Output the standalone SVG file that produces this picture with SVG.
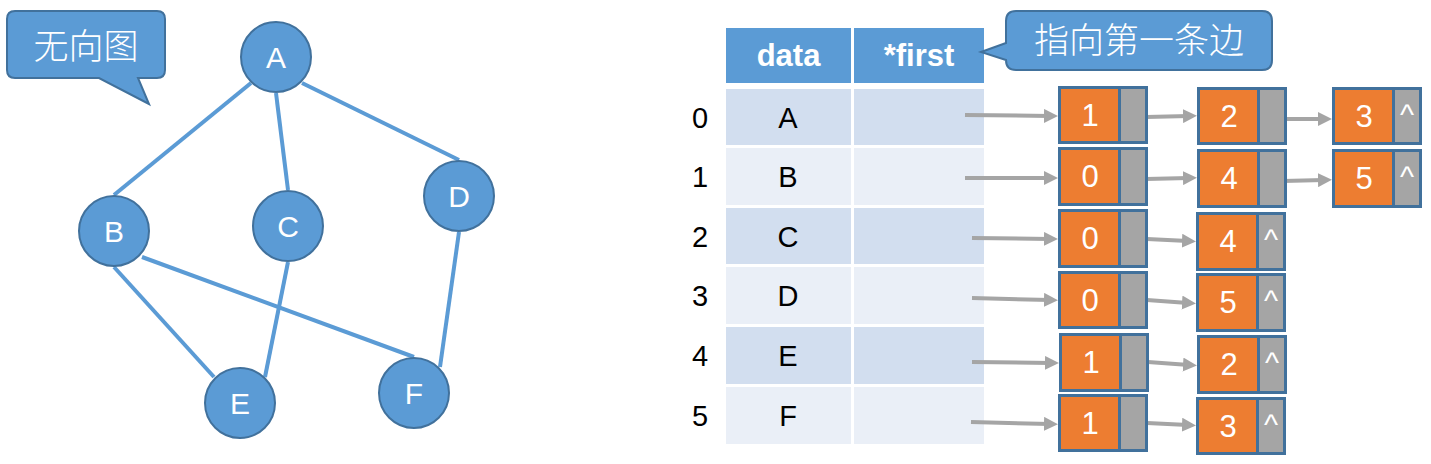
<svg xmlns="http://www.w3.org/2000/svg" width="1431" height="464" viewBox="0 0 1431 464">
<style>
.edge{stroke:#5B9BD5;stroke-width:4;fill:none}
.gnode{fill:#5B9BD5;stroke:#41719C;stroke-width:2}
.glabel{fill:#fff;font-family:"Liberation Sans","Open Sans",sans-serif;font-size:30px;text-anchor:middle}
.callout{fill:#5B9BD5;stroke:#41719C;stroke-width:2}
.cjk{fill:#fff;font-family:"Noto Sans CJK SC","Noto Sans",sans-serif;font-size:35px;font-weight:300;text-anchor:middle}
.hdr{fill:#5B9BD5}
.hdrt{fill:#fff;font-family:"Liberation Sans",sans-serif;font-size:31px;font-weight:bold;text-anchor:middle}
.r0{fill:#D2DEEF}
.r1{fill:#EAEFF7}
.tt{fill:#000;font-family:"Liberation Sans",sans-serif;font-size:29px;text-anchor:middle}
.orange{fill:#ED7D31;stroke:#41719C;stroke-width:3}
.gray{fill:#A5A5A5}
.div{stroke:#41719C;stroke-width:3}
.num{fill:#fff;font-family:"Liberation Sans",sans-serif;font-size:31px;text-anchor:middle}
.caret{fill:#fff;font-family:"Liberation Sans",sans-serif;font-size:30px;text-anchor:middle}
.arr{stroke:#A5A5A5;stroke-width:4;fill:none;marker-end:url(#ah)}
</style>
<defs>
<marker id="ah" viewBox="0 0 10 10" markerUnits="userSpaceOnUse" markerWidth="14" markerHeight="14" refX="4.3" refY="5" orient="auto">
<path d="M0,0 L10,5 L0,10 Z" fill="#A5A5A5"/>
</marker>
</defs>
<rect width="1431" height="464" fill="#fff"/>

<g id="callout-undirected">
<path class="callout" d="M15,11 H157 Q165,11 165,19 V70 Q165,78 157,78 H138 L149,104 L99,78 H15 Q7,78 7,70 V19 Q7,11 15,11 Z"/>
<text class="cjk" x="86" y="59">无向图</text>
</g>

<g id="graph-edges">
<line class="edge" x1="251" y1="83" x2="114" y2="195"/>
<line class="edge" x1="276" y1="93" x2="288" y2="190"/>
<line class="edge" x1="302" y1="83" x2="459" y2="160"/>
<line class="edge" x1="114" y1="267" x2="214" y2="377"/>
<line class="edge" x1="142" y1="257" x2="414" y2="357"/>
<line class="edge" x1="288" y1="262" x2="265" y2="377"/>
<line class="edge" x1="459" y1="232" x2="440" y2="367"/>
</g>

<g id="node-A"><circle class="gnode" cx="276" cy="57" r="35"/><text class="glabel" x="276" y="68">A</text></g>
<g id="node-B"><circle class="gnode" cx="114" cy="231" r="35"/><text class="glabel" x="114" y="242">B</text></g>
<g id="node-C"><circle class="gnode" cx="288" cy="226" r="35"/><text class="glabel" x="288" y="237">C</text></g>
<g id="node-D"><circle class="gnode" cx="459" cy="196" r="35"/><text class="glabel" x="459" y="207">D</text></g>
<g id="node-E"><circle class="gnode" cx="240" cy="403" r="35"/><text class="glabel" x="240" y="414">E</text></g>
<g id="node-F"><circle class="gnode" cx="414" cy="393" r="35"/><text class="glabel" x="414" y="404">F</text></g>

<g id="table">
<rect class="hdr" x="726" y="28" width="125" height="55"/>
<rect class="hdr" x="854" y="28" width="130" height="55"/>
<text class="hdrt" x="788.5" y="66">data</text>
<text class="hdrt" x="919" y="66">*first</text>

<rect class="r0" x="726" y="89" width="125" height="56"/><rect class="r0" x="854" y="89" width="130" height="56"/>
<rect class="r1" x="726" y="148" width="125" height="57"/><rect class="r1" x="854" y="148" width="130" height="57"/>
<rect class="r0" x="726" y="208" width="125" height="56"/><rect class="r0" x="854" y="208" width="130" height="56"/>
<rect class="r1" x="726" y="267" width="125" height="57"/><rect class="r1" x="854" y="267" width="130" height="57"/>
<rect class="r0" x="726" y="327" width="125" height="57"/><rect class="r0" x="854" y="327" width="130" height="57"/>
<rect class="r1" x="726" y="387" width="125" height="57"/><rect class="r1" x="854" y="387" width="130" height="57"/>

<text class="tt" x="700" y="128">0</text><text class="tt" x="788" y="128">A</text>
<text class="tt" x="700" y="187">1</text><text class="tt" x="788" y="187">B</text>
<text class="tt" x="700" y="247">2</text><text class="tt" x="788" y="247">C</text>
<text class="tt" x="700" y="306">3</text><text class="tt" x="788" y="306">D</text>
<text class="tt" x="700" y="366">4</text><text class="tt" x="788" y="366">E</text>
<text class="tt" x="700" y="426">5</text><text class="tt" x="788" y="426">F</text>
</g>

<g id="callout-first">
<path class="callout" d="M1016,11 H1262 Q1272,11 1272,21 V60 Q1272,70 1262,70 H1016 Q1006,70 1006,60 L981,52 L1006,43 V21 Q1006,11 1016,11 Z"/>
<text class="cjk" x="1139" y="53">指向第一条边</text>
</g>

<g id="connectors">
<line class="arr" x1="965" y1="115" x2="1050" y2="116"/>
<line class="arr" x1="1146" y1="117" x2="1189" y2="116"/>
<line class="arr" x1="1283" y1="119" x2="1324" y2="119"/>
<line class="arr" x1="965" y1="178" x2="1050" y2="178"/>
<line class="arr" x1="1146" y1="179" x2="1189" y2="178"/>
<line class="arr" x1="1283" y1="181" x2="1324" y2="180"/>
<line class="arr" x1="972" y1="238" x2="1050" y2="239"/>
<line class="arr" x1="1147" y1="239" x2="1188" y2="241"/>
<line class="arr" x1="972" y1="298" x2="1050" y2="300"/>
<line class="arr" x1="1147" y1="300" x2="1188" y2="303"/>
<line class="arr" x1="972" y1="362" x2="1051" y2="363"/>
<line class="arr" x1="1148" y1="362" x2="1189" y2="365"/>
<line class="arr" x1="971" y1="422" x2="1050" y2="424"/>
<line class="arr" x1="1147" y1="423" x2="1188" y2="425"/>
</g>

<g id="edge-0-1"><rect class="orange" x="1059.5" y="87.5" width="87" height="55"/><rect class="gray" x="1121" y="89" width="24" height="52"/><line class="div" x1="1119.5" y1="87.5" x2="1119.5" y2="142.5"/><text class="num" x="1090" y="126">1</text></g>
<g id="edge-0-2"><rect class="orange" x="1198.5" y="88.5" width="87" height="55"/><rect class="gray" x="1260" y="90" width="24" height="52"/><line class="div" x1="1258.5" y1="88.5" x2="1258.5" y2="143.5"/><text class="num" x="1229" y="127">2</text></g>
<g id="edge-0-3"><rect class="orange" x="1333.5" y="88.5" width="87" height="55"/><rect class="gray" x="1395" y="90" width="24" height="52"/><line class="div" x1="1393.5" y1="88.5" x2="1393.5" y2="143.5"/><text class="num" x="1364" y="127">3</text><text class="caret" x="1407" y="125">^</text></g>

<g id="edge-1-0"><rect class="orange" x="1059.5" y="148.5" width="87" height="56"/><rect class="gray" x="1121" y="150" width="24" height="53"/><line class="div" x1="1119.5" y1="148.5" x2="1119.5" y2="204.5"/><text class="num" x="1090" y="187">0</text></g>
<g id="edge-1-4"><rect class="orange" x="1198.5" y="150.5" width="87" height="56"/><rect class="gray" x="1260" y="152" width="24" height="53"/><line class="div" x1="1258.5" y1="150.5" x2="1258.5" y2="206.5"/><text class="num" x="1229" y="189">4</text></g>
<g id="edge-1-5"><rect class="orange" x="1333.5" y="150.5" width="87" height="56"/><rect class="gray" x="1395" y="152" width="24" height="53"/><line class="div" x1="1393.5" y1="150.5" x2="1393.5" y2="206.5"/><text class="num" x="1364" y="189">5</text><text class="caret" x="1407" y="187">^</text></g>

<g id="edge-2-0"><rect class="orange" x="1059.5" y="210.5" width="87" height="56"/><rect class="gray" x="1121" y="212" width="24" height="53"/><line class="div" x1="1119.5" y1="210.5" x2="1119.5" y2="266.5"/><text class="num" x="1090" y="249">0</text></g>
<g id="edge-2-4"><rect class="orange" x="1197.5" y="213.5" width="87" height="56"/><rect class="gray" x="1259" y="215" width="24" height="53"/><line class="div" x1="1257.5" y1="213.5" x2="1257.5" y2="269.5"/><text class="num" x="1228" y="252">4</text><text class="caret" x="1271" y="250">^</text></g>

<g id="edge-3-0"><rect class="orange" x="1059.5" y="272.5" width="87" height="55"/><rect class="gray" x="1121" y="274" width="24" height="52"/><line class="div" x1="1119.5" y1="272.5" x2="1119.5" y2="327.5"/><text class="num" x="1090" y="311">0</text></g>
<g id="edge-3-5"><rect class="orange" x="1197.5" y="274.5" width="87" height="56"/><rect class="gray" x="1259" y="276" width="24" height="53"/><line class="div" x1="1257.5" y1="274.5" x2="1257.5" y2="330.5"/><text class="num" x="1228" y="313">5</text><text class="caret" x="1271" y="311">^</text></g>

<g id="edge-4-1"><rect class="orange" x="1060.5" y="334.5" width="87" height="56"/><rect class="gray" x="1122" y="336" width="24" height="53"/><line class="div" x1="1120.5" y1="334.5" x2="1120.5" y2="390.5"/><text class="num" x="1091" y="373">1</text></g>
<g id="edge-4-2"><rect class="orange" x="1198.5" y="336.5" width="87" height="56"/><rect class="gray" x="1260" y="338" width="24" height="53"/><line class="div" x1="1258.5" y1="336.5" x2="1258.5" y2="392.5"/><text class="num" x="1229" y="375">2</text><text class="caret" x="1272" y="373">^</text></g>

<g id="edge-5-1"><rect class="orange" x="1059.5" y="395.5" width="87" height="55"/><rect class="gray" x="1121" y="397" width="24" height="52"/><line class="div" x1="1119.5" y1="395.5" x2="1119.5" y2="450.5"/><text class="num" x="1090" y="434">1</text></g>
<g id="edge-5-3"><rect class="orange" x="1197.5" y="398.5" width="87" height="55"/><rect class="gray" x="1259" y="400" width="24" height="52"/><line class="div" x1="1257.5" y1="398.5" x2="1257.5" y2="453.5"/><text class="num" x="1228" y="437">3</text><text class="caret" x="1271" y="435">^</text></g>
</svg>
